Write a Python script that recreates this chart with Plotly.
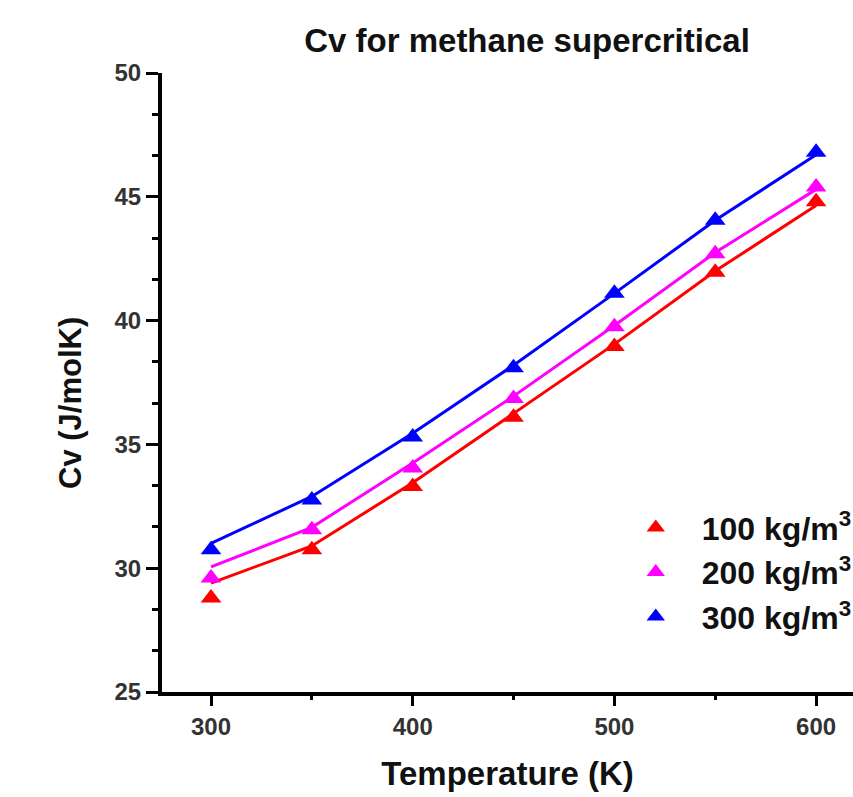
import plotly.graph_objects as go

temperature = [300, 350, 400, 450, 500, 550, 600]

# measured points (markers)
cv_100 = [28.8, 30.75, 33.3, 36.1, 38.95, 41.95, 44.8]
cv_200 = [29.6, 31.55, 34.05, 36.85, 39.75, 42.7, 45.4]
cv_300 = [30.75, 32.75, 35.3, 38.1, 41.1, 44.05, 46.8]

# model curves (lines)
fit_100 = [29.4, 30.9, 33.45, 36.25, 39.05, 42.0, 44.65]
fit_200 = [30.05, 31.65, 34.25, 36.95, 39.8, 42.75, 45.3]
fit_300 = [31.0, 32.9, 35.45, 38.2, 41.1, 44.05, 46.7]

series_names = ["100 kg/m<sup>3</sup>", "200 kg/m<sup>3</sup>", "300 kg/m<sup>3</sup>"]
colors = ["#ff0000", "#ff00ff", "#0000ff"]

font_family = "Arial, Liberation Sans, sans-serif"

fig = go.Figure()

for fit, c in zip([fit_100, fit_200, fit_300], colors):
    fig.add_trace(go.Scatter(x=temperature, y=fit, mode="lines",
                             line=dict(color=c, width=3), showlegend=False,
                             hoverinfo="skip"))

for pts, c, n in zip([cv_100, cv_200, cv_300], colors, series_names):
    fig.add_trace(go.Scatter(x=temperature, y=pts, mode="markers", name=n,
                             marker=dict(symbol="triangle-up", size=18, color=c,
                                         line=dict(width=0))))

fig.update_layout(
    width=853, height=797,
    margin=dict(l=162, r=0, t=73, b=105, pad=0, autoexpand=False),
    paper_bgcolor="white", plot_bgcolor="white",
    font=dict(family=font_family, color="#111", weight="bold"),
    title=dict(text="Cv for methane supercritical", x=527/853, xanchor="center",
               y=1 - 40/797, yanchor="middle",
               font=dict(size=33, family=font_family, color="#111", weight="bold")),
    showlegend=True,
    legend=dict(x=0.648, xanchor="left", y=0.31, yanchor="top",
                bgcolor="rgba(0,0,0,0)", itemwidth=82,
                font=dict(size=32, family=font_family, color="#111", weight="bold"),
                tracegroupgap=0),
    annotations=[dict(text="Cv (J/molK)", textangle=-90, xref="paper", yref="paper",
                      x=(70 - 162) / 691, y=(692 - 403) / 619,
                      xanchor="center", yanchor="middle", showarrow=False,
                      font=dict(size=31, family=font_family, color="#111", weight="bold"))],
)

fig.update_xaxes(
    range=[275.7, 618.3], showgrid=False, zeroline=False,
    showline=True, linecolor="black", linewidth=4,
    ticks="outside", ticklen=10, tickwidth=3, tickcolor="black",
    tickvals=[300, 400, 500, 600],
    tickfont=dict(size=24, family=font_family, color="#333", weight="bold"),
    minor=dict(ticks="outside", tickvals=[350, 450, 550], ticklen=4, tickwidth=3, tickcolor="black"),
    title=dict(text="Temperature (K)", standoff=24,
               font=dict(size=33, family=font_family, color="#111", weight="bold")),
)

fig.update_yaxes(
    range=[25, 50], showgrid=False, zeroline=False,
    showline=True, linecolor="black", linewidth=4,
    ticks="outside", ticklen=12, tickwidth=3, tickcolor="black",
    tickvals=[25, 30, 35, 40, 45, 50],
    tickfont=dict(size=24, family=font_family, color="#333", weight="bold"),
    minor=dict(ticks="outside", dtick=5/3, tick0=25, ticklen=6, tickwidth=3, tickcolor="black"),
)

fig.write_html("out.html")
